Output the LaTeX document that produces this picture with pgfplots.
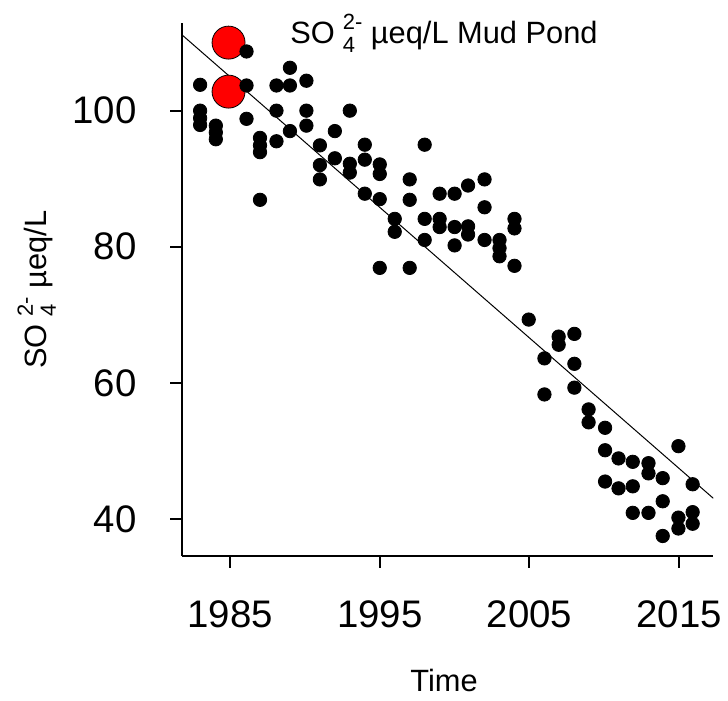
\documentclass[border=0pt]{standalone}
\usepackage{pgfplots}
\pgfplotsset{compat=1.18}
\usepackage{pgfplotstable}
\usepackage{fontspec}
\setmainfont{Liberation Sans}
\newcommand{\sofour}[3]{SO\hspace{4pt}\sbox0{\fontsize{#1}{#1}\selectfont 2-}\rlap{\raisebox{#2}{\usebox0}}\makebox[\wd0][l]{\raisebox{-#3}{\fontsize{#1}{#1}\selectfont 4}}}
\pgfplotstableread{
x y
1983.0 103.8
1983.0 100.0
1983.0 98.9
1983.0 97.9
1984.05 97.8
1984.05 96.8
1984.05 95.8
1986.1 108.7
1986.1 103.7
1986.1 98.8
1987.0 96.0
1987.0 94.9
1987.0 93.9
1987.0 86.9
1988.1 103.7
1988.1 100.0
1988.1 95.5
1989.0 106.3
1989.0 103.7
1989.0 97.0
1990.1 104.4
1990.1 100.0
1990.1 97.8
1991.0 94.9
1991.0 92.0
1991.0 89.9
1992.0 97.0
1992.0 93.0
1993.0 100.0
1993.0 92.2
1993.0 90.9
1994.0 95.0
1994.0 92.8
1994.0 87.8
1995.0 92.1
1995.0 90.7
1995.0 87.0
1995.0 76.9
1996.0 84.1
1996.0 82.2
1997.0 89.9
1997.0 86.9
1997.0 76.9
1998.0 95.0
1998.0 84.1
1998.0 81.0
1999.0 87.8
1999.0 84.1
1999.0 82.9
2000.0 87.8
2000.0 82.9
2000.0 80.2
2000.9 89.0
2000.9 83.0
2000.9 81.8
2002.0 89.9
2002.0 85.8
2002.0 81.0
2003.0 81.0
2003.0 79.8
2003.0 78.6
2004.0 84.1
2004.0 82.7
2004.0 77.2
2004.95 69.3
2006.0 63.6
2006.0 58.3
2006.95 66.8
2006.95 65.6
2008.0 67.2
2008.0 62.8
2008.0 59.3
2008.95 56.1
2008.95 54.2
2010.05 53.4
2010.05 50.1
2010.05 45.5
2010.95 48.9
2010.95 44.5
2011.9 48.4
2011.9 44.8
2011.9 40.9
2012.95 48.2
2012.95 46.7
2012.95 40.9
2013.9 46.0
2013.9 42.6
2013.9 37.5
2014.95 50.7
2014.95 40.2
2014.95 38.6
2015.9 45.1
2015.9 41.0
2015.9 39.3
}\mudpond
\begin{document}
\begin{tikzpicture}
\path[use as bounding box] (0,0) rectangle (364pt,350.5pt);
\begin{axis}[
  at={(91.15pt,72.5pt)}, anchor=south west,
  scale only axis, width=265.5pt, height=266.35pt,
  xmin=1981.81, xmax=2017.28, ymin=34.56, ymax=112.84,
  axis lines*=left,
  axis line style={-, line width=1pt, black},
  xtick={1985,1995,2005,2015}, ytick={40,60,80,100},
  tick align=outside, major tick length=6pt,
  tick style={line width=1pt, black},
  tick label style={font=\fontsize{19.2}{23}\selectfont, inner sep=0pt},
  /pgf/number format/1000 sep={},
  /pgf/number format/assume math mode=true,
  xticklabel style={anchor=base, yshift=-29.75pt},
  yticklabel style={anchor=east, xshift=-16.65pt},
  title={\sofour{11pt}{7pt}{4.5pt} µeq/L Mud Pond},
  title style={at={(axis description cs:0.4928,0.9625)}, anchor=base, yshift=-6pt, inner sep=0pt, font=\fontsize{15.4}{18}\selectfont},
  xlabel={Time},
  xlabel style={at={(axis description cs:0.4928,-0.2553)}, anchor=base, inner sep=0pt, font=\fontsize{15.4}{18}\selectfont},
  ylabel={\sofour{11pt}{7pt}{4.5pt} µeq/L},
  ylabel style={at={(axis description cs:-0.2548,0.5)}, anchor=base, rotate=0, inner sep=0pt, font=\fontsize{15.4}{18}\selectfont},
]
\addplot[only marks, mark=*, mark size=8.25pt, mark options={draw=none, fill=red}] coordinates {(1984.9,110.0) (1984.9,102.8)};
\addplot[only marks, mark=*, mark size=3.35pt, mark options={draw=none, fill=black}] table[x=x, y=y] {\mudpond};
\addplot[black, line width=0.5pt] coordinates {(1981.81,111.1) (2017.28,43.04)};
\end{axis}
\end{tikzpicture}
\end{document}
